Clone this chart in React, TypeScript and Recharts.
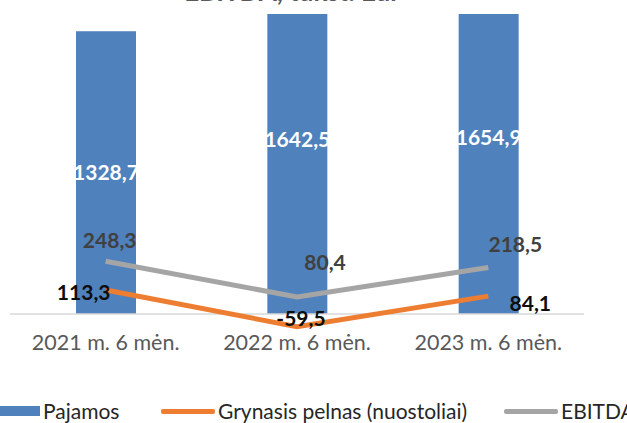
import React from "react";
import {
  ComposedChart,
  Bar,
  Line,
  XAxis,
  YAxis,
  LabelList,
  ReferenceLine,
} from "recharts";

const CATEGORIES = ["2021 m. 6 mėn.", "2022 m. 6 mėn.", "2023 m. 6 mėn."];
const PAJAMOS = [1328.7, 1642.5, 1654.9];
const GRYNASIS_PELNAS = [113.3, -59.5, 84.1];
const EBITDA = [248.3, 80.4, 218.5];

const BLUE = "#4F81BD";
const ORANGE = "#ED7D31";
const GRAY = "#A5A5A5";
const FONT = "Lato, 'Open Sans', sans-serif";

const data = CATEGORIES.map((cat, i) => ({
  cat,
  pajamos: PAJAMOS[i],
  pelnas: GRYNASIS_PELNAS[i],
  ebitda: EBITDA[i],
}));

const fmt = (v: number) => v.toFixed(1).replace(".", ",");

// per-point label nudges, the way the original sits its labels
const EBITDA_OFFSETS = [
  [4, -22],
  [28, -35],
  [27, -24],
];
const PELNAS_OFFSETS = [
  [-22, 2],
  [4, -9],
  [42, 6],
];

const makePointLabel =
  (offsets: number[][], color: string) =>
  (props: any) => {
    const { x, y, value, index } = props;
    const [dx, dy] = offsets[index] ?? [0, 0];
    return (
      <text
        x={x + dx}
        y={y + dy}
        textAnchor="middle"
        dominantBaseline="central"
        fill={color}
        fontSize={21}
        fontWeight="bold"
        fontFamily={FONT}
      >
        {fmt(value)}
      </text>
    );
  };

const CategoryTick = (props: any) => {
  const { x, y, payload } = props;
  return (
    <text
      x={x}
      y={y + 12}
      textAnchor="middle"
      fill="#595959"
      fontSize={21.5}
      fontFamily={FONT}
    >
      {payload.value}
    </text>
  );
};

const LegendItem = ({
  left,
  swatch,
  label,
}: {
  left: number;
  swatch: React.ReactNode;
  label: string;
}) => (
  <div
    style={{
      position: "absolute",
      left,
      top: 399,
      display: "flex",
      alignItems: "center",
      gap: 3,
      fontFamily: FONT,
      fontSize: 21,
      lineHeight: "24px",
      color: "#262626",
      whiteSpace: "nowrap",
    }}
  >
    {swatch}
    <span>{label}</span>
  </div>
);

export default function App() {
  return (
    <div
      style={{
        position: "absolute",
        left: 0,
        top: 0,
        width: 627,
        height: 423,
        overflow: "hidden",
        background: "#fff",
      }}
    >
      <div
        style={{
          position: "absolute",
          left: 0,
          width: 584,
          top: -22.5,
          textAlign: "center",
          fontFamily: FONT,
          fontWeight: "bold",
          fontSize: 26,
          lineHeight: "26px",
          color: "#595959",
        }}
      >
        EBITDA, tūkst. Eur
      </div>
      <ComposedChart
        width={627}
        height={423}
        data={data}
        margin={{ top: 14, right: 43, left: 10, bottom: 63 }}
        barSize={60}
      >
        <XAxis
          dataKey="cat"
          axisLine={false}
          tickLine={false}
          height={30}
          tick={<CategoryTick />}
          interval={0}
        />
        <YAxis hide domain={[-75, 1410]} allowDataOverflow />
        <ReferenceLine y={0} stroke="#D9D9D9" strokeWidth={1.5} />
        <Bar dataKey="pajamos" fill={BLUE} isAnimationActive={false}>
          <LabelList
            dataKey="pajamos"
            position="center"
            formatter={(v: any) => fmt(Number(v))}
            fill="#FFFFFF"
            fontSize={21}
            fontWeight="bold"
            fontFamily={FONT}
          />
        </Bar>
        <Line
          dataKey="pelnas"
          stroke={ORANGE}
          strokeWidth={5}
          dot={false}
          type="linear"
          isAnimationActive={false}
        >
          <LabelList dataKey="pelnas" content={makePointLabel(PELNAS_OFFSETS, "#0D0D0D")} />
        </Line>
        <Line
          dataKey="ebitda"
          stroke={GRAY}
          strokeWidth={5}
          dot={false}
          type="linear"
          isAnimationActive={false}
        >
          <LabelList dataKey="ebitda" content={makePointLabel(EBITDA_OFFSETS, "#404040")} />
        </Line>
      </ComposedChart>
      <LegendItem
        left={-60}
        swatch={<span style={{ display: "inline-block", width: 100, height: 10, background: BLUE }} />}
        label="Pajamos"
      />
      <LegendItem
        left={161}
        swatch={<span style={{ display: "inline-block", width: 54, height: 5, background: ORANGE, borderRadius: 2 }} />}
        label="Grynasis pelnas (nuostoliai)"
      />
      <LegendItem
        left={504}
        swatch={<span style={{ display: "inline-block", width: 54, height: 5, background: GRAY, borderRadius: 2 }} />}
        label="EBITDA"
      />
    </div>
  );
}
